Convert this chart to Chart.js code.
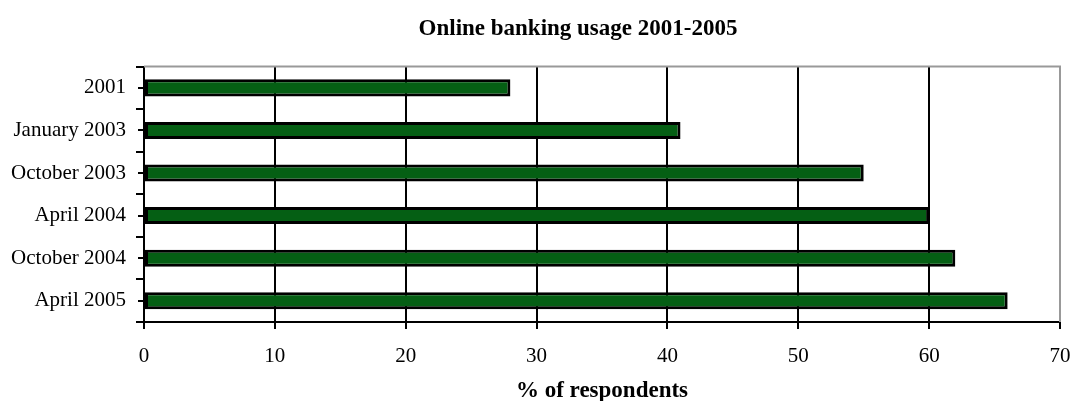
<!DOCTYPE html>
<html>
<head>
<meta charset="utf-8">
<script src="https://cdn.jsdelivr.net/npm/chart.js@4/dist/chart.umd.min.js"></script>
<style>
  html, body { margin: 0; padding: 0; background: #fff; }
  #wrap { width: 1074px; height: 401px; }
</style>
</head>
<body>
<div id="wrap"><canvas id="myChart"></canvas></div>
<script>
// datos
const periodos = ["2001", "January 2003", "October 2003", "April 2004", "October 2004", "April 2005"];
const porcentajes = [28, 41, 55, 60, 62, 66];
const titulo = "Online banking usage 2001-2005";
const tituloEjeX = "% of respondents";

const fuente = "'Liberation Serif', 'Times New Roman', serif";

// borde gris arriba y a la derecha + marcas pequeñas al centro de cada categoria
const extras = {
  id: "extras",
  afterLayout(chart) {
    // el titulo va centrado un poco a la derecha, como en el original
    const t = chart.titleBlock;
    if (t) {
      t.left = 96;
      t.right = chart.chartArea.right;
      t.width = t.right - t.left;
    }
  },
  afterDraw(chart) {
    const { ctx, chartArea } = chart;
    const y = chart.scales.y;
    ctx.save();
    ctx.strokeStyle = "#999";
    ctx.lineWidth = 2;
    ctx.beginPath();
    ctx.moveTo(chartArea.left, chartArea.top);
    ctx.lineTo(chartArea.right, chartArea.top);
    ctx.lineTo(chartArea.right, chartArea.bottom);
    ctx.stroke();
    ctx.strokeStyle = "#000";
    ctx.beginPath();
    periodos.forEach((p, i) => {
      const py = Math.round(y.getPixelForValue(i));
      ctx.moveTo(chartArea.left - 6, py);
      ctx.lineTo(chartArea.left, py);
    });
    ctx.stroke();
    ctx.restore();
  }
};

const grafica = document.getElementById("myChart");
const myChart = new Chart(grafica, {
  type: "bar",
  data: {
    labels: periodos,
    datasets: [
      {
        data: porcentajes,
        backgroundColor: "#055f14",
        borderColor: "#000",
        borderWidth: 3,
        borderSkipped: false,
        barPercentage: 0.4,
        categoryPercentage: 1
      }
    ]
  },
  options: {
    indexAxis: "y",
    responsive: true,
    maintainAspectRatio: false,
    animation: false,
    layout: { padding: { left: 0, right: 0, top: 0, bottom: 0 } },
    plugins: {
      legend: { display: false },
      tooltip: { enabled: false },
      title: {
        display: true,
        text: titulo,
        color: "#000",
        font: { family: fuente, size: 23, weight: "bold", lineHeight: 1.2 },
        padding: { top: 15, bottom: 24 }
      }
    },
    scales: {
      x: {
        type: "linear",
        position: "bottom",
        min: 0,
        max: 70,
        ticks: { stepSize: 10, color: "#000", padding: 15, font: { family: fuente, size: 21 } },
        grid: { color: "#000", lineWidth: 2, tickLength: 7 },
        border: { color: "#000", width: 2 },
        title: {
          display: true,
          text: tituloEjeX,
          color: "#000",
          font: { family: fuente, size: 23, weight: "bold", lineHeight: 0.85 },
          padding: { top: 0, bottom: 0 }
        },
        afterFit(scale) {
          scale.height = 79;
          scale.paddingRight = 14;
        }
      },
      y: {
        ticks: { color: "#000", padding: 10, font: { family: fuente, size: 21 } },
        grid: { color: "#000", lineWidth: 2, tickLength: 8, drawOnChartArea: false, offset: true },
        border: { color: "#000", width: 2 },
        afterFit(scale) { scale.width = 144; }
      }
    }
  },
  plugins: [extras]
});
</script>
</body>
</html>
